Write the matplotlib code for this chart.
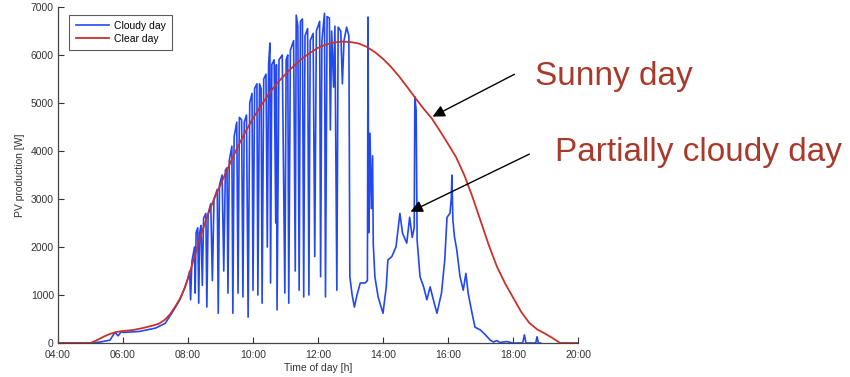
import matplotlib
matplotlib.use("Agg")
import matplotlib.pyplot as plt

plt.rcParams['font.family'] = ['Liberation Sans', 'DejaVu Sans']

# ---- data (hours of day, W) ----
clear_t = [4.0, 5.0, 5.2, 5.4, 5.6, 5.8, 6.0, 6.3, 6.6, 6.9, 7.1, 7.3, 7.45, 7.6, 7.75,
           7.9, 8.05, 8.2, 8.4, 8.6, 8.8, 9.0, 9.2, 9.4, 9.6, 9.8, 10.0, 10.25, 10.5,
           10.75, 11.0, 11.25, 11.5, 11.75, 12.0, 12.25, 12.5, 12.75, 13.0, 13.25, 13.5,
           13.75, 14.0, 14.25, 14.5, 14.75, 15.0, 15.25, 15.5, 15.75, 16.0, 16.25, 16.5,
           16.75, 17.0, 17.25, 17.5, 17.75, 18.0, 18.25, 18.5, 18.75, 19.0, 19.2, 19.45, 20.0]
clear_v = [0, 0, 60, 130, 190, 230, 250, 270, 310, 360, 400, 490, 600, 750, 920,
           1150, 1450, 1800, 2250, 2650, 3000, 3300, 3600, 3900, 4180, 4440, 4680, 4950, 5200,
           5420, 5600, 5770, 5920, 6040, 6150, 6220, 6260, 6280, 6270, 6240, 6170,
           6060, 5920, 5750, 5550, 5330, 5100, 4880, 4680, 4420, 4150, 3870, 3500,
           3050, 2550, 2050, 1600, 1250, 950, 650, 420, 280, 190, 110, 0, 0]

cloudy_t = [4.0, 5.0, 5.3, 5.6, 5.75, 5.85, 5.95, 6.0, 6.5, 7.0, 7.3, 7.5, 7.75, 7.9, 8.0,
            8.05, 8.08, 8.12, 8.2, 8.22, 8.25, 8.3, 8.33, 8.36, 8.4, 8.44, 8.48, 8.55, 8.58,
            8.62, 8.7, 8.75, 8.8, 8.9, 8.93, 8.97, 9.05, 9.1, 9.15, 9.2, 9.23, 9.27, 9.35,
            9.38, 9.42, 9.5, 9.54, 9.58, 9.65, 9.69, 9.73, 9.8, 9.85, 9.9, 9.97, 10.0, 10.05,
            10.12, 10.15, 10.2, 10.25, 10.28, 10.33, 10.4, 10.44, 10.48, 10.52, 10.54, 10.58,
            10.65, 10.7, 10.72, 10.74, 10.8, 10.9, 10.98, 11.02, 11.07, 11.1, 11.15, 11.25,
            11.3, 11.33, 11.38, 11.42, 11.46, 11.52, 11.56, 11.6, 11.68, 11.72, 11.76, 11.85,
            11.9, 11.95, 12.05, 12.08, 12.12, 12.2, 12.23, 12.28, 12.35, 12.38, 12.42, 12.48,
            12.52, 12.58, 12.62, 12.7, 12.75, 12.8, 12.88, 12.95, 12.98,
            13.05, 13.12, 13.2, 13.3, 13.45, 13.52, 13.54, 13.56, 13.6, 13.64, 13.68, 13.7,
            13.75, 13.85, 14.0, 14.1, 14.15, 14.27, 14.4, 14.52, 14.6, 14.73, 14.82, 14.9,
            14.96, 14.98, 15.02, 15.05, 15.14, 15.25, 15.35, 15.45, 15.55, 15.66, 15.8, 15.9,
            15.97, 16.06, 16.1, 16.12, 16.15, 16.2, 16.27, 16.37, 16.47, 16.55, 16.62, 16.74,
            16.83, 17.0, 17.15, 17.3, 17.4, 17.5, 17.6, 17.8, 18.0, 18.3, 18.35, 18.4, 18.7,
            18.74, 18.78, 18.85]
cloudy_v = [0, 0, 20, 60, 220, 150, 240, 220, 240, 310, 410, 620, 900, 1150, 1350,
            1500, 900, 1700, 2000, 1040, 2300, 2400, 830, 2300, 2450, 1200, 2600, 2700, 750,
            2700, 2900, 1300, 3000, 3200, 620, 3300, 3500, 1500, 3600, 3650, 1040, 3800, 4100,
            620, 4300, 4600, 1040, 4700, 4650, 960, 4600, 4750, 540, 5000, 5200, 1100, 5300,
            5400, 1000, 5400, 5300, 830, 5500, 5600, 2000, 5800, 6250, 1250, 5800,
            5900, 2500, 5800, 690, 5900, 6000, 1040, 5900, 6000, 830, 6100, 6300,
            1500, 6830, 6600, 1100, 6700, 6750, 960, 6400, 6550, 1000, 6300, 6450,
            1800, 6500, 6700, 1380, 6300, 6870, 960, 6800, 6770, 4440, 6500, 5330,
            6600, 1100, 6580, 6500, 5400, 6300, 6580, 6400, 1380,
            1000, 750, 1000, 1250, 1250, 1300, 6790, 2300, 4370, 2800, 3900, 2080,
            1380, 960, 620, 1170, 1730, 1800, 2000, 2700, 2290, 2080, 2620, 2200,
            2400, 5130, 4850, 2140, 1380, 1170, 900, 1170, 900, 620, 1040, 1730,
            2620, 2700, 3000, 3500, 2560, 2210, 1940, 1380, 1100, 1450, 1040, 620,
            330, 270, 170, 60, 20, 50, 10, 30, 0, 0, 170, 0, 0,
            130, 0, 0]

xticks = [4, 6, 8, 10, 12, 14, 16, 18, 20]
xtick_labels = ['04:00', '06:00', '08:00', '10:00', '12:00', '14:00', '16:00', '18:00', '20:00']
yticks = [0, 1000, 2000, 3000, 4000, 5000, 6000, 7000]

fig = plt.figure(figsize=(8.5, 3.77), dpi=100)
ax = fig.add_axes([58/850, 34/377, 520/850, 336/377])

blue = '#2448f0'
red = '#c83228'
ax.plot(cloudy_t, cloudy_v, color=blue, lw=1.2, label='Cloudy day')
ax.plot(clear_t, clear_v, color=red, lw=1.3, label='Clear day')

ax.set_xlim(4, 20)
ax.set_ylim(0, 7000)
ax.set_xticks(xticks)
ax.set_xticklabels(xtick_labels)
ax.set_yticks(yticks)
ax.tick_params(direction='in', length=4, width=0.8, labelsize=7.5, colors='#333333', pad=3)
ax.tick_params(axis='x', pad=5)
for s in ['top', 'right']:
    ax.spines[s].set_visible(False)
for s in ['left', 'bottom']:
    ax.spines[s].set_color('#444444')
    ax.spines[s].set_linewidth(0.9)
ax.set_xlabel('Time of day [h]', fontsize=7.5, color='#333333', labelpad=2)
ax.set_ylabel('PV production [W]', fontsize=7.5, color='#333333', labelpad=4)

leg = ax.legend(loc='upper left', bbox_to_anchor=(0.012, 0.993), fontsize=7.5,
                frameon=True, fancybox=False, handlelength=3.2, borderpad=0.6,
                labelspacing=0.3, handletextpad=0.5)
leg.get_frame().set_edgecolor('#333333')
leg.get_frame().set_linewidth(0.8)

txt_col = '#a83a2c'
ax.annotate('', xy=(15.45, 4690), xytext=(18.12, 5625),
            arrowprops=dict(arrowstyle='-|>', color='black', lw=1.0, mutation_scale=18))
ax.annotate('', xy=(14.77, 2710), xytext=(18.58, 3960),
            arrowprops=dict(arrowstyle='-|>', color='black', lw=1.0, mutation_scale=18))
fig.text(535/850, 1 - 76/377, 'Sunny day', fontsize=24, color=txt_col, va='center', ha='left')
fig.text(555/850, 1 - 153/377, 'Partially cloudy day', fontsize=24, color=txt_col, va='center', ha='left')

fig.savefig('out.png', dpi=100)
